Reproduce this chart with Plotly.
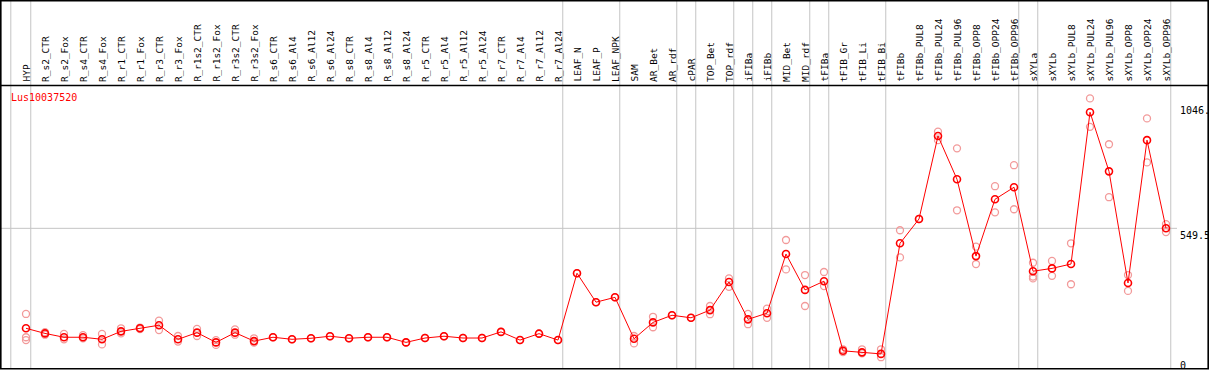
import plotly.graph_objects as go

W, H = 1209, 370

title = "Lus10037520"

categories = [
    "HYP", "R_s2_CTR", "R_s2_Fox", "R_s4_CTR", "R_s4_Fox", "R_r1_CTR", "R_r1_Fox",
    "R_r3_CTR", "R_r3_Fox", "R_r1s2_CTR", "R_r1s2_Fox", "R_r3s2_CTR", "R_r3s2_Fox",
    "R_s6_CTR", "R_s6_Al4", "R_s6_Al12", "R_s6_Al24", "R_s8_CTR", "R_s8_Al4",
    "R_s8_Al12", "R_s8_Al24", "R_r5_CTR", "R_r5_Al4", "R_r5_Al12", "R_r5_Al24",
    "R_r7_CTR", "R_r7_Al4", "R_r7_Al12", "R_r7_Al24", "LEAF_N", "LEAF_P", "LEAF_NPK",
    "SAM", "AR_Bet", "AR_rdf", "cPAR", "TOP_Bet", "TOP_rdf", "iFIBa", "iFIBb",
    "MID_Bet", "MID_rdf", "tFIBa", "tFIB_Gr", "tFIB_Li", "tFIB_Bi", "tFIBb",
    "tFIBb_PUL8", "tFIBb_PUL24", "tFIBb_PUL96", "tFIBb_OPP8", "tFIBb_OPP24",
    "tFIBb_OPP96", "sXYLa", "sXYLb", "sXYLb_PUL8", "sXYLb_PUL24", "sXYLb_PUL96",
    "sXYLb_OPP8", "sXYLb_OPP24", "sXYLb_OPP96",
]

mean_values = [
    159, 139, 124, 124, 116, 147, 159, 171, 116, 142, 104, 142, 109,
    124, 116, 120, 128, 120, 124, 124, 104, 121, 128, 121, 121,
    145, 113, 138, 113, 374, 261, 280,
    118, 182, 210, 200, 230, 340, 194, 218,
    449, 309, 343, 71, 65, 59, 491,
    586, 910, 741, 441, 663, 710,
    382, 393, 410, 1003, 772, 336, 894, 550,
]

replicate_values = [
    [215, 124, 113], [144, 134], [137, 116], [132, 120], [137, 96], [159, 139], [162, 156],
    [189, 152], [129, 107], [157, 129], [113, 94], [155, 134], [120, 103],
    [124], [116], [120], [128], [120], [124], [124], [104], [121], [128], [121], [121],
    [145], [113], [138], [113], [374], [261], [280],
    [129, 100], [204, 163], [210], [200], [246, 214], [354, 321], [215, 175], [236, 200],
    [504, 389], [367, 246], [379, 324], [77, 66], [77, 61], [77, 46], [542, 436],
    [586], [927, 894], [862, 620], [478, 410], [714, 612], [796, 624],
    [415, 361, 354], [422, 364], [491, 331], [1057, 946], [878, 671], [367, 305],
    [979, 807], [566, 535],
]

# groups separated by vertical grey rules
groups = [
    ["HYP"],
    categories[1:29],
    ["LEAF_N", "LEAF_P", "LEAF_NPK"],
    ["SAM", "AR_Bet", "AR_rdf"],
    ["cPAR"],
    ["TOP_Bet", "TOP_rdf"],
    ["iFIBa"],
    ["iFIBb"],
    ["MID_Bet", "MID_rdf"],
    ["tFIBa"],
    ["tFIB_Gr", "tFIB_Li", "tFIB_Bi"],
    categories[46:53],
    ["sXYLa"],
    categories[54:61],
]

axis_labels = ["1046.", "549.5", "0"]
axis_values = [1046, 549.5, 0]

# ---- pixel geometry
X0, DX = 26.0, 19.0          # pixel x of first category, spacing
Y_ZERO, PX_PER_UNIT = 369.0, 0.256

xr = [-X0 / DX, (W - X0) / DX]
yr = [(Y_ZERO - H) / PX_PER_UNIT, Y_ZERO / PX_PER_UNIT]

def px(xp):
    return xp / W

def py(yp):
    return 1 - yp / H

idx = {c: i for i, c in enumerate(categories)}

fig = go.Figure()

rx, ry = [], []
for i, reps in enumerate(replicate_values):
    for v in reps:
        rx.append(i)
        ry.append(v)

fig.add_trace(go.Scatter(
    x=rx, y=ry, mode="markers",
    marker=dict(symbol="circle-open", size=7, color="#f29a9a", line=dict(width=1.3, color="#f29a9a")),
    hoverinfo="skip", showlegend=False,
))
fig.add_trace(go.Scatter(
    x=list(range(len(categories))), y=mean_values, mode="lines+markers",
    line=dict(color="#ff0000", width=1),
    marker=dict(symbol="circle-open", size=7, color="#ff0000", line=dict(width=1.6, color="#ff0000")),
    showlegend=False,
))

shapes = []
# vertical separators
sep_x = [-0.8]
for g in groups:
    sep_x.append(idx[g[-1]] + 0.25)
for sx in sep_x:
    shapes.append(dict(type="line", xref="x", yref="paper", x0=sx, x1=sx, y0=py(369), y1=1,
                       line=dict(color="#c4c4c4", width=1), layer="below"))
# mid horizontal gridline
shapes.append(dict(type="line", xref="paper", yref="y", x0=0, x1=px(1177), y0=549.5, y1=549.5,
                   line=dict(color="#c4c4c4", width=1), layer="below"))
# line under labels
shapes.append(dict(type="line", xref="paper", yref="paper", x0=0, x1=1, y0=py(85.5), y1=py(85.5),
                   line=dict(color="black", width=1.5)))
# outer border
shapes.append(dict(type="rect", xref="paper", yref="paper", x0=px(0.8), x1=px(1208.2), y0=py(368.8), y1=py(0.8),
                   line=dict(color="black", width=1.6)))

annotations = []
for i, c in enumerate(categories):
    annotations.append(dict(
        x=i, y=py(84), xref="x", yref="paper", text=c, textangle=-90,
        showarrow=False, xanchor="center", yanchor="bottom",
        font=dict(family="DejaVu Sans Mono", size=9.5, color="black"),
    ))
annotations.append(dict(
    x=px(9), y=py(97), xref="paper", yref="paper", text=title, showarrow=False,
    xanchor="left", yanchor="middle", font=dict(family="DejaVu Sans Mono", size=10, color="#ff0000"),
))
label_tops = {1046: 103, 549.5: 228, 0: 358}
for lab, v in zip(axis_labels, axis_values):
    annotations.append(dict(
        x=px(1178), y=py(label_tops[v]), xref="paper", yref="paper", text=lab, showarrow=False,
        xanchor="left", yanchor="top", font=dict(family="DejaVu Sans Mono", size=10, color="black"),
    ))

fig.update_layout(
    width=W, height=H, margin=dict(l=0, r=0, t=0, b=0),
    paper_bgcolor="white", plot_bgcolor="white",
    xaxis=dict(range=xr, visible=False, fixedrange=True),
    yaxis=dict(range=yr, visible=False, fixedrange=True),
    shapes=shapes, annotations=annotations, showlegend=False,
)

fig.write_html(
    "out.html",
    config={"displayModeBar": False},
    post_script="document.body.style.margin='0';document.body.style.padding='0';",
)
